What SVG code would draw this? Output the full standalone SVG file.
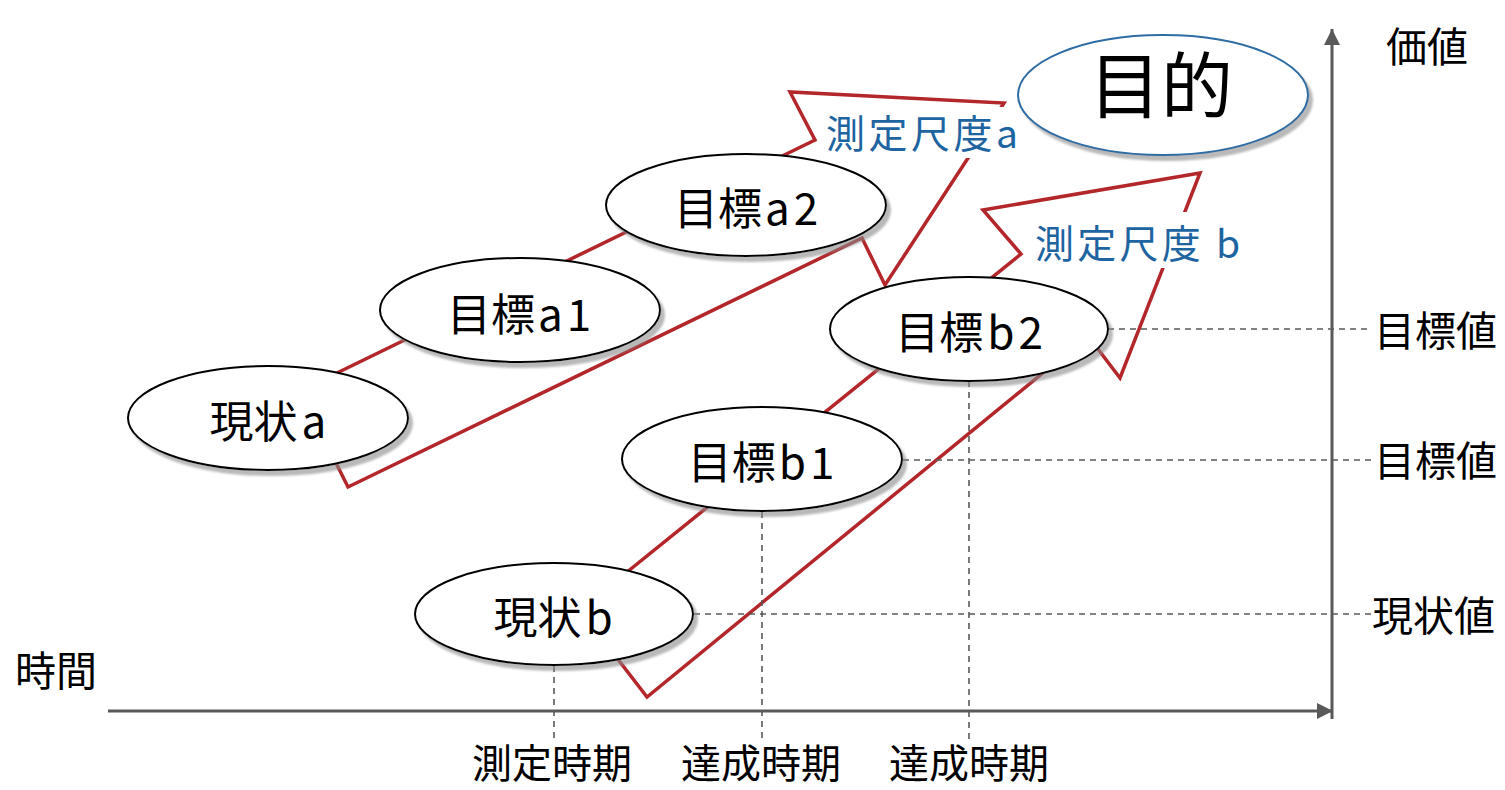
<svg xmlns="http://www.w3.org/2000/svg" width="1505" height="790" viewBox="0 0 1505 790">
<style>
  text { font-family: "Noto Sans CJK JP", "Noto Sans CJK SC", sans-serif; fill: #000; }
  .node ellipse { fill: #fff; stroke: #000; stroke-width: 2; filter: url(#shadow); }
  .lbl { font-size: 44px; text-anchor: middle; }
  .side { font-size: 41px; }
  .bottom { font-size: 40px; text-anchor: middle; }
  .measure { font-size: 39px; fill: #1e64a0; }
  .red { fill: none; stroke: #b3262a; stroke-width: 3.5; stroke-linejoin: miter; }
  .axis { fill: none; stroke: #595959; stroke-width: 3; }
  .dash { fill: none; stroke: #595959; stroke-width: 1.6; stroke-dasharray: 6 5; }
</style>
<defs>
  <filter id="shadow" x="-10%" y="-20%" width="125%" height="150%">
    <feDropShadow dx="4" dy="5" stdDeviation="1.3" flood-color="#8a8a8a" flood-opacity="0.6"/>
  </filter>
  <marker id="arr" markerUnits="userSpaceOnUse" markerWidth="17" markerHeight="17" refX="16" refY="8" orient="auto">
    <path d="M0,0 L16,8 L0,16 z" fill="#595959"/>
  </marker>
</defs>
<rect width="1505" height="790" fill="#fff"/>

<g id="connectors">
  <polygon class="red" points="300,391 815,140 790,92 1004,103 885,285 862,238 348,487"/>
  <polygon class="red" points="580,610 1021,254 983,210 1200,173 1120,378 1088,336 647,697"/>
  <path class="dash" d="M1108,329 H1372 M903,460 H1372 M694,614 H1372 M554,666 V742 M762,512 V742 M969,381 V740"/>
  <line class="axis" x1="108" y1="711" x2="1333" y2="711" marker-end="url(#arr)"/>
  <line class="axis" x1="1332" y1="719" x2="1332" y2="29" marker-end="url(#arr)"/>
</g>

<g id="measure-a">
  <rect x="820" y="107" width="200" height="51" fill="#fff"/>
  <text class="measure" x="826" y="148" textLength="192" lengthAdjust="spacing">測定尺度a</text>
</g>
<g id="measure-b">
  <rect x="1030" y="212" width="215" height="56" fill="#fff"/>
  <text class="measure" x="1035" y="258" textLength="205" lengthAdjust="spacing">測定尺度 b</text>
</g>

<g id="genjo-a" class="node">
  <ellipse cx="268" cy="418" rx="140" ry="52"/>
  <text class="lbl" x="268" y="438">現状<tspan dx="4">a</tspan></text>
</g>
<g id="mokuhyo-a1" class="node">
  <ellipse cx="520" cy="310" rx="140" ry="52"/>
  <text class="lbl" x="519" y="331">目標<tspan dx="3">a</tspan><tspan dx="4">1</tspan></text>
</g>
<g id="mokuhyo-a2" class="node">
  <ellipse cx="746" cy="205" rx="140" ry="51"/>
  <text class="lbl" x="746" y="225">目標<tspan dx="3">a</tspan><tspan dx="4">2</tspan></text>
</g>
<g id="mokuhyo-b2" class="node">
  <ellipse cx="969" cy="329" rx="139" ry="52"/>
  <text class="lbl" x="969" y="349">目標<tspan dx="4">b</tspan><tspan dx="4">2</tspan></text>
</g>
<g id="mokuhyo-b1" class="node">
  <ellipse cx="762" cy="459" rx="140" ry="52"/>
  <text class="lbl" x="761" y="479">目標<tspan dx="3">b</tspan><tspan dx="4">1</tspan></text>
</g>
<g id="genjo-b" class="node">
  <ellipse cx="554" cy="614" rx="139" ry="51"/>
  <text class="lbl" x="553" y="634">現状<tspan dx="4">b</tspan></text>
</g>
<g id="mokuteki" class="node">
  <ellipse cx="1163" cy="95" rx="145" ry="60" style="stroke:#2e6ca4"/>
  <text x="1161" y="112" style="font-size:72px" text-anchor="middle">目的</text>
</g>

<g id="labels">
  <text class="side" x="1386" y="62">価値</text>
  <text class="side" x="1374" y="346">目標値</text>
  <text class="side" x="1374" y="476">目標値</text>
  <text class="side" x="1372" y="631">現状値</text>
  <text class="side" x="15" y="686">時間</text>
  <text class="bottom" x="552" y="778">測定時期</text>
  <text class="bottom" x="761" y="778">達成時期</text>
  <text class="bottom" x="969" y="778">達成時期</text>
</g>
</svg>
